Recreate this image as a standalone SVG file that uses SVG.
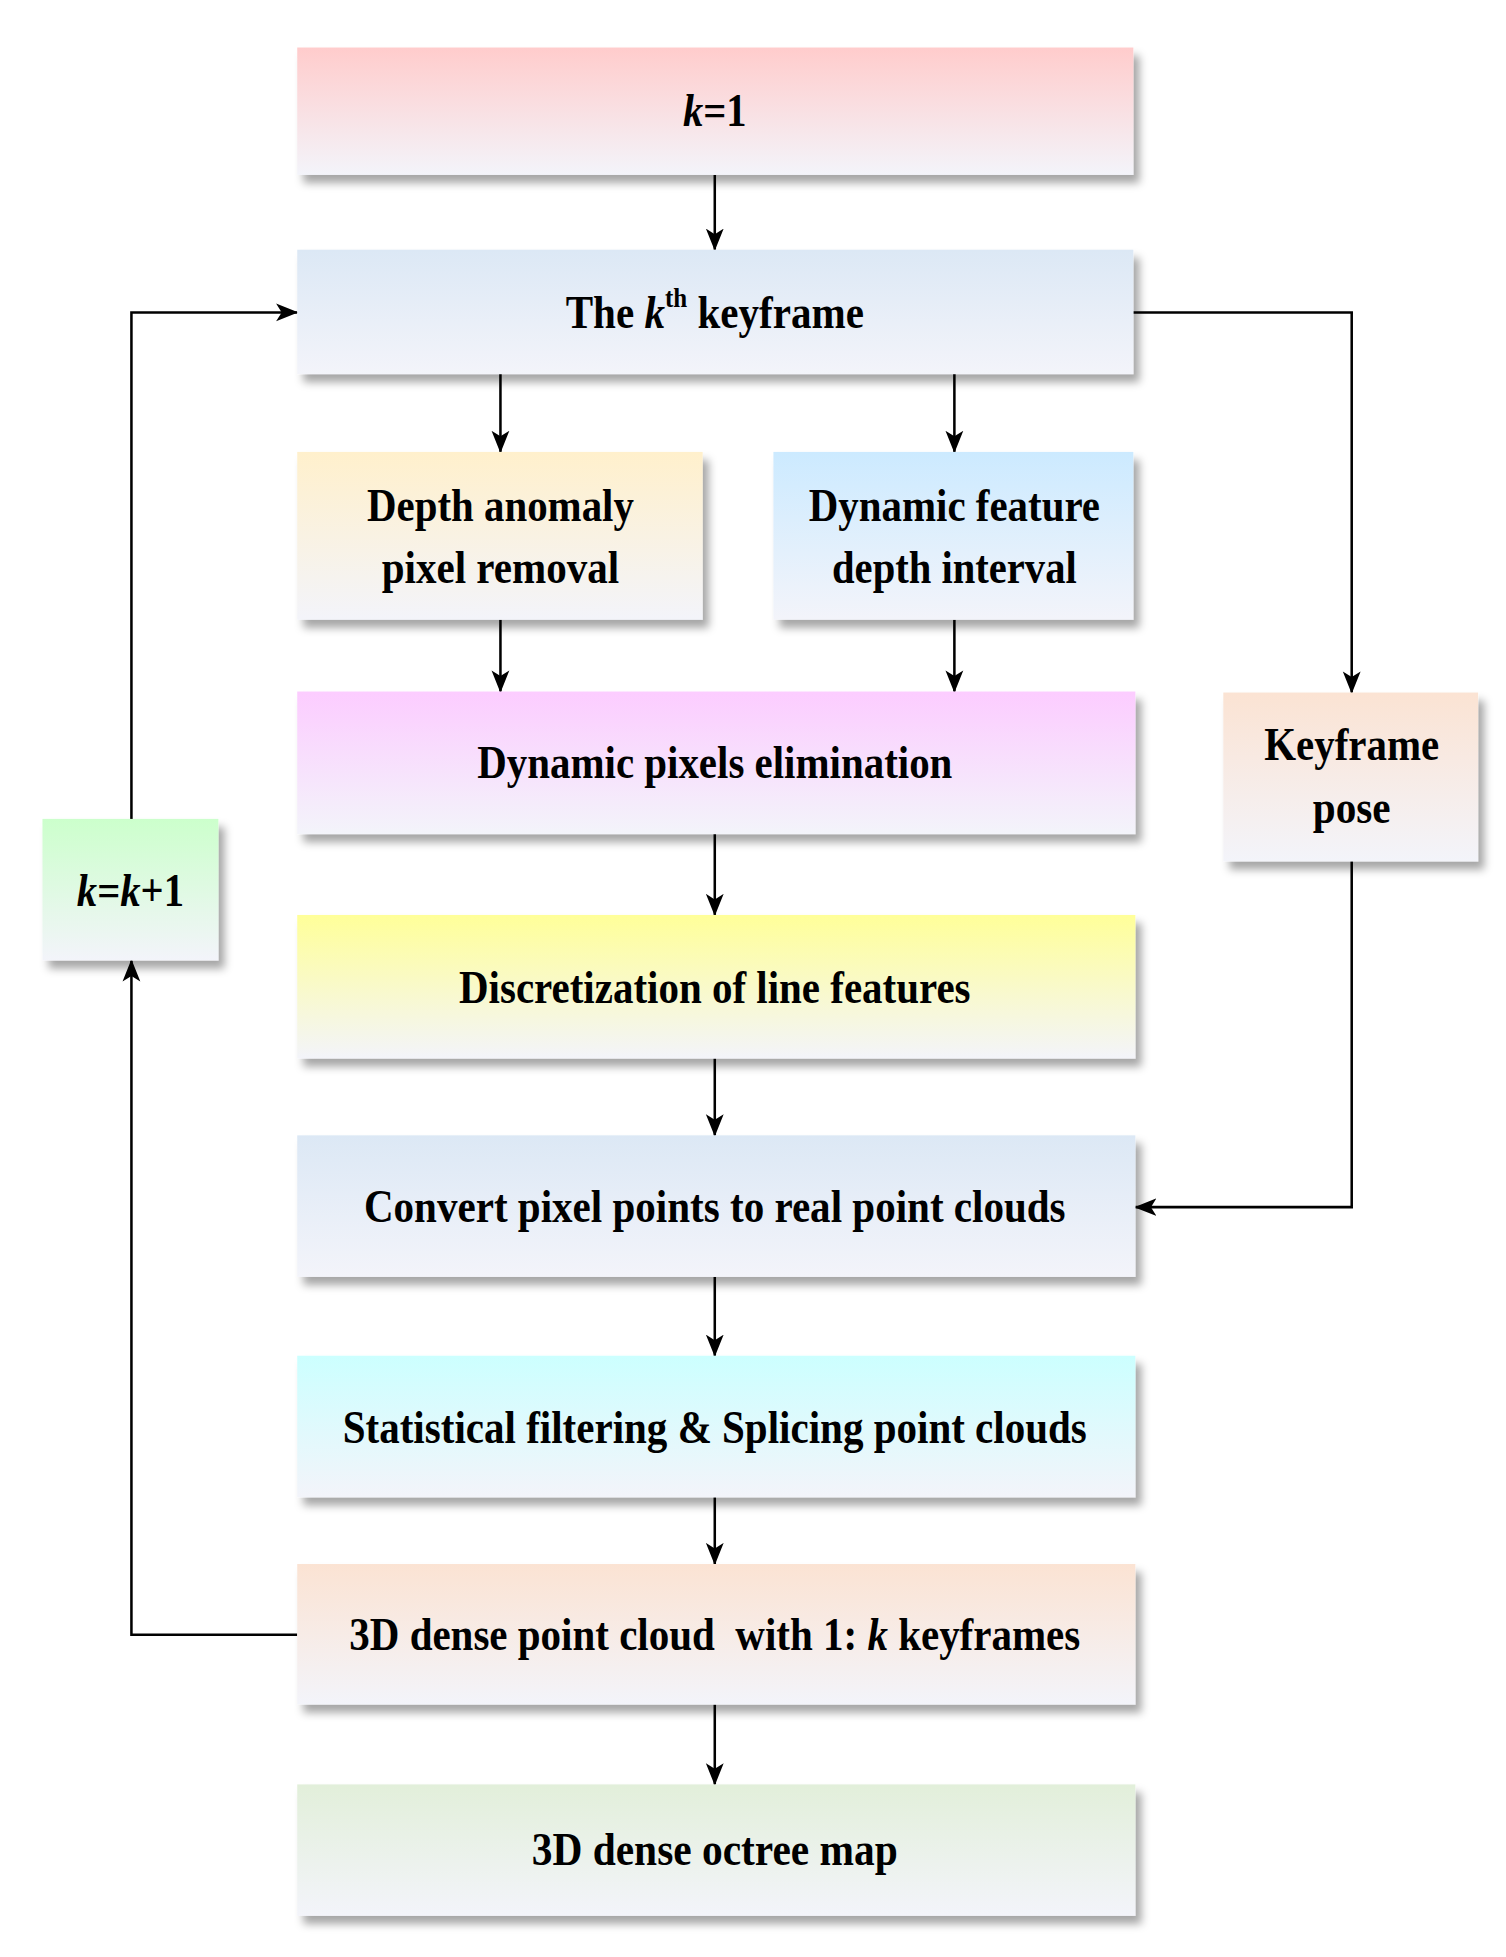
<svg xmlns="http://www.w3.org/2000/svg" width="1506" height="1957" viewBox="0 0 1506 1957">
<style>
text{font-family:"Liberation Serif","Times New Roman",serif;font-weight:bold;font-size:46px;fill:#000;text-anchor:middle}
.i{font-style:italic}
.c{stroke:#000;stroke-width:2.5;fill:none}
</style>
<defs>
<filter id="sh" x="-5%" y="-5%" width="115%" height="125%"><feDropShadow dx="6" dy="8" stdDeviation="4" flood-color="#000" flood-opacity="0.35"/></filter>
<marker id="ar" viewBox="0 0 20 20" refX="19" refY="10" markerWidth="22" markerHeight="22" markerUnits="userSpaceOnUse" orient="auto"><path d="M0,2 L20,10 L0,18 L5,10 Z" fill="#000"/></marker>
<linearGradient id="g1" x1="0" y1="0" x2="0" y2="1"><stop offset="0" stop-color="#ffcccc"/><stop offset="1" stop-color="#f3f4fa"/></linearGradient>
<linearGradient id="g2" x1="0" y1="0" x2="0" y2="1"><stop offset="0" stop-color="#dce8f5"/><stop offset="1" stop-color="#f3f4fa"/></linearGradient>
<linearGradient id="g3" x1="0" y1="0" x2="0" y2="1"><stop offset="0" stop-color="#fff0cc"/><stop offset="1" stop-color="#f3f4fa"/></linearGradient>
<linearGradient id="g4" x1="0" y1="0" x2="0" y2="1"><stop offset="0" stop-color="#cceaff"/><stop offset="1" stop-color="#f3f4fa"/></linearGradient>
<linearGradient id="g5" x1="0" y1="0" x2="0" y2="1"><stop offset="0" stop-color="#fcccff"/><stop offset="1" stop-color="#f3f4fa"/></linearGradient>
<linearGradient id="g6" x1="0" y1="0" x2="0" y2="1"><stop offset="0" stop-color="#fbe3d3"/><stop offset="1" stop-color="#f3f4fa"/></linearGradient>
<linearGradient id="g7" x1="0" y1="0" x2="0" y2="1"><stop offset="0" stop-color="#ccffcc"/><stop offset="1" stop-color="#f3f4fa"/></linearGradient>
<linearGradient id="g8" x1="0" y1="0" x2="0" y2="1"><stop offset="0" stop-color="#ffff99"/><stop offset="1" stop-color="#f3f4fa"/></linearGradient>
<linearGradient id="g9" x1="0" y1="0" x2="0" y2="1"><stop offset="0" stop-color="#ccffff"/><stop offset="1" stop-color="#f3f4fa"/></linearGradient>
<linearGradient id="g10" x1="0" y1="0" x2="0" y2="1"><stop offset="0" stop-color="#e2efda"/><stop offset="1" stop-color="#f3f4fa"/></linearGradient>
</defs>
<rect width="1506" height="1957" fill="#fff"/>
<g transform="scale(1.011)">
<g id="connectors">
<line class="c" x1="707" y1="173" x2="707" y2="247" marker-end="url(#ar)"/>
<line class="c" x1="495" y1="370" x2="495" y2="447" marker-end="url(#ar)"/>
<line class="c" x1="944" y1="370" x2="944" y2="447" marker-end="url(#ar)"/>
<line class="c" x1="495" y1="613" x2="495" y2="684" marker-end="url(#ar)"/>
<line class="c" x1="944" y1="613" x2="944" y2="684" marker-end="url(#ar)"/>
<line class="c" x1="707" y1="825" x2="707" y2="905" marker-end="url(#ar)"/>
<line class="c" x1="707" y1="1047" x2="707" y2="1123" marker-end="url(#ar)"/>
<line class="c" x1="707" y1="1263" x2="707" y2="1341" marker-end="url(#ar)"/>
<line class="c" x1="707" y1="1481" x2="707" y2="1547" marker-end="url(#ar)"/>
<line class="c" x1="707" y1="1686" x2="707" y2="1765" marker-end="url(#ar)"/>
<polyline class="c" points="1121,309 1337,309 1337,685" marker-end="url(#ar)"/>
<polyline class="c" points="1337,852 1337,1194 1123,1194" marker-end="url(#ar)"/>
<polyline class="c" points="294,1617 130,1617 130,950" marker-end="url(#ar)"/>
<polyline class="c" points="130,810 130,309 294,309" marker-end="url(#ar)"/>
</g>
<g id="n1"><rect x="294" y="47" width="827" height="126" fill="url(#g1)" filter="url(#sh)"/><text x="707" y="125" textLength="63" lengthAdjust="spacingAndGlyphs"><tspan class="i">k</tspan>=1</text></g>
<g id="n2"><rect x="294" y="247" width="827" height="123" fill="url(#g2)" filter="url(#sh)"/><text x="707" y="324" textLength="295" lengthAdjust="spacingAndGlyphs">The <tspan class="i">k</tspan><tspan font-size="28" dy="-20">th</tspan><tspan dy="20"> keyframe</tspan></text></g>
<g id="n3"><rect x="294" y="447" width="401" height="166" fill="url(#g3)" filter="url(#sh)"/><text x="495" y="515" textLength="264" lengthAdjust="spacingAndGlyphs">Depth anomaly</text><text x="495" y="577" textLength="235" lengthAdjust="spacingAndGlyphs">pixel removal</text></g>
<g id="n4"><rect x="765" y="447" width="356" height="166" fill="url(#g4)" filter="url(#sh)"/><text x="944" y="515" textLength="288" lengthAdjust="spacingAndGlyphs">Dynamic feature</text><text x="944" y="577" textLength="242" lengthAdjust="spacingAndGlyphs">depth interval</text></g>
<g id="n5"><rect x="294" y="684" width="829" height="141" fill="url(#g5)" filter="url(#sh)"/><text x="707" y="770" textLength="470" lengthAdjust="spacingAndGlyphs">Dynamic pixels elimination</text></g>
<g id="n6"><rect x="1210" y="685" width="252" height="167" fill="url(#g6)" filter="url(#sh)"/><text x="1337" y="752" textLength="173" lengthAdjust="spacingAndGlyphs">Keyframe</text><text x="1337" y="814" textLength="77" lengthAdjust="spacingAndGlyphs">pose</text></g>
<g id="n7"><rect x="42" y="810" width="174" height="140" fill="url(#g7)" filter="url(#sh)"/><text x="129" y="896" textLength="106" lengthAdjust="spacingAndGlyphs"><tspan class="i">k</tspan>=<tspan class="i">k</tspan>+1</text></g>
<g id="n8"><rect x="294" y="905" width="829" height="142" fill="url(#g8)" filter="url(#sh)"/><text x="707" y="992" textLength="506" lengthAdjust="spacingAndGlyphs">Discretization of line features</text></g>
<g id="n9"><rect x="294" y="1123" width="829" height="140" fill="url(#g2)" filter="url(#sh)"/><text x="707" y="1209" textLength="694" lengthAdjust="spacingAndGlyphs">Convert pixel points to real point clouds</text></g>
<g id="n10"><rect x="294" y="1341" width="829" height="140" fill="url(#g9)" filter="url(#sh)"/><text x="707" y="1427" textLength="736" lengthAdjust="spacingAndGlyphs">Statistical filtering &amp; Splicing point clouds</text></g>
<g id="n11"><rect x="294" y="1547" width="829" height="139" fill="url(#g6)" filter="url(#sh)"/><text x="707" y="1632" textLength="723" lengthAdjust="spacingAndGlyphs" xml:space="preserve">3D dense point cloud  with 1: <tspan class="i">k</tspan> keyframes</text></g>
<g id="n12"><rect x="294" y="1765" width="829" height="130" fill="url(#g10)" filter="url(#sh)"/><text x="707" y="1845" textLength="362" lengthAdjust="spacingAndGlyphs">3D dense octree map</text></g>
</g>
</svg>
